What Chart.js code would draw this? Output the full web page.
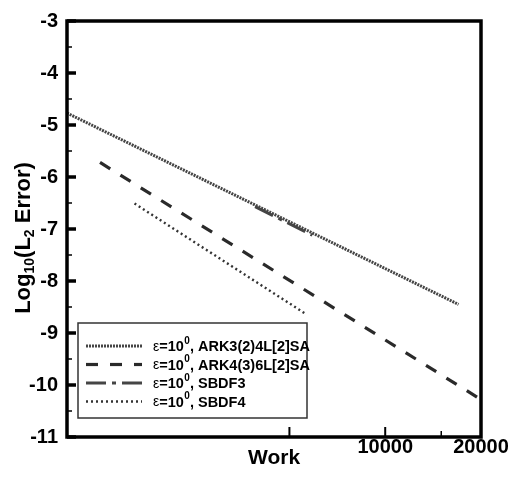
<!DOCTYPE html>
<html>
<head>
<meta charset="utf-8">
<script src="https://cdn.jsdelivr.net/npm/chart.js@4/dist/chart.umd.min.js"></script>
<style>
html,body{margin:0;padding:0;background:#fff;}
#wrap{width:511px;height:481px;}
</style>
</head>
<body>
<div id="wrap"><canvas id="c" width="511" height="481"></canvas></div>
<script>
// ---- data ----
const seriesNames = ['ARK3(2)4L[2]SA', 'ARK4(3)6L[2]SA', 'SBDF3', 'SBDF4'];
const workARK3 = [1000, 17000];
const errARK3  = [-4.77, -8.45];
const workARK4 = [1270, 20000];
const errARK4  = [-5.72, -10.28];
const workSBDF3 = [3900, 5900];
const errSBDF3  = [-6.57, -7.12];
const workSBDF4 = [1630, 5650];
const errSBDF4  = [-6.51, -8.64];
const xTickValues = [5000, 10000, 15000, 20000];
const xLabeled = [10000, 20000];
const yTickValues = [-3, -4, -5, -6, -7, -8, -9, -10, -11];

const FONT = "'Liberation Sans', Arial, sans-serif";
const pts = (xs, ys) => xs.map((x, i) => ({x: x, y: ys[i]}));

const styles = [
  {color: '#454545', width: 3, dash: [2, 1]},
  {color: '#2a2a2a', width: 3.2, dash: [12, 12]},
  {color: '#454545', width: 3, dash: [20, 6, 4, 6]},
  {color: '#333333', width: 2.4, dash: [2, 3]}
];
const seriesData = [pts(workARK3, errARK3), pts(workARK4, errARK4), pts(workSBDF3, errSBDF3), pts(workSBDF4, errSBDF4)];

const datasets = seriesData.map((d, i) => ({
  label: seriesNames[i],
  data: d,
  borderColor: styles[i].color,
  borderWidth: styles[i].width,
  borderDash: styles[i].dash,
  pointRadius: 0,
  fill: false,
  tension: 0
}));

const framePlugin = {
  id: 'frame',
  afterDraw(chart) {
    const ctx = chart.ctx;
    const a = chart.chartArea;
    const xs = chart.scales.x, ys = chart.scales.y;
    ctx.save();
    ctx.strokeStyle = '#000';
    // y ticks (inward)
    yTickValues.forEach(v => {
      const y = ys.getPixelForValue(v);
      ctx.lineWidth = 3.5;
      ctx.beginPath(); ctx.moveTo(a.left, y); ctx.lineTo(a.left + 9, y); ctx.stroke();
      if (v > -11) {
        const ym = ys.getPixelForValue(v - 0.5);
        ctx.lineWidth = 1.5;
        ctx.beginPath(); ctx.moveTo(a.left, ym); ctx.lineTo(a.left + 5, ym); ctx.stroke();
      }
    });
    // x ticks (inward)
    xTickValues.forEach(v => {
      const x = xs.getPixelForValue(v);
      const major = v !== 15000;
      ctx.lineWidth = major ? 2 : 1.5;
      ctx.beginPath(); ctx.moveTo(x, a.bottom); ctx.lineTo(x, a.bottom - (major ? 10 : 6)); ctx.stroke();
    });
    // frame
    ctx.lineWidth = 3.5;
    ctx.strokeRect(a.left, a.top, a.right - a.left, a.bottom - a.top);

    // y title with subscripts
    ctx.save();
    ctx.translate(30, 238);
    ctx.rotate(-Math.PI / 2);
    ctx.fillStyle = '#000';
    ctx.textBaseline = 'alphabetic';
    const big = 'bold 22px ' + FONT, small = 'bold 14px ' + FONT;
    const parts = [['Log', big, 0], ['10', small, 4], ['(L', big, 0], ['2', small, 4], [' Error)', big, 0]];
    let total = 0;
    parts.forEach(p => { ctx.font = p[1]; total += ctx.measureText(p[0]).width; });
    let cx = -total / 2;
    parts.forEach(p => { ctx.font = p[1]; ctx.fillText(p[0], cx, p[2]); cx += ctx.measureText(p[0]).width; });
    ctx.restore();

    // legend
    const lx = 78, ly = 323, lw = 229, lh = 95;
    ctx.fillStyle = '#fff';
    ctx.fillRect(lx, ly, lw, lh);
    ctx.lineWidth = 1.5;
    ctx.strokeStyle = '#333';
    ctx.strokeRect(lx, ly, lw, lh);
    const rows = [346, 364.5, 383, 401.5];
    chart.data.datasets.forEach((ds, i) => {
      const y = rows[i];
      ctx.save();
      ctx.strokeStyle = ds.borderColor;
      ctx.lineWidth = ds.borderWidth;
      ctx.setLineDash(ds.borderDash);
      ctx.beginPath(); ctx.moveTo(86, y); ctx.lineTo(142, y); ctx.stroke();
      ctx.restore();
      ctx.fillStyle = '#000';
      ctx.textBaseline = 'middle';
      let tx = 153;
      ctx.font = '14px ' + FONT;
      ctx.fillText('ε', tx, y + 1); tx += ctx.measureText('ε').width;
      ctx.font = 'bold 14.5px ' + FONT;
      ctx.fillText('=10', tx, y + 1); tx += ctx.measureText('=10').width;
      ctx.font = 'bold 10px ' + FONT;
      ctx.fillText('0', tx + 0.5, y - 5); tx += ctx.measureText('0').width + 0.5;
      ctx.font = 'bold 14.5px ' + FONT;
      ctx.fillText(', ' + ds.label, tx, y + 1);
    });
    ctx.restore();
  }
};

new Chart(document.getElementById('c'), {
  type: 'line',
  data: {datasets: datasets},
  options: {
    responsive: false,
    animation: false,
    layout: {padding: {top: 13, right: 30, left: 0, bottom: 0}},
    plugins: {legend: {display: false}, tooltip: {enabled: false}},
    scales: {
      x: {
        type: 'logarithmic',
        min: 1000, max: 20000,
        afterBuildTicks: (s) => { s.ticks = xTickValues.map(v => ({value: v})); },
        afterFit: (s) => { s.height = 44; },
        grid: {display: false, drawTicks: false},
        border: {display: false},
        ticks: {
          autoSkip: false, maxRotation: 0, padding: -2,
          color: '#000',
          font: {family: FONT, size: 20, weight: 'bold'},
          callback: (v) => xLabeled.includes(v) ? String(v) : ''
        },
        title: {display: true, text: 'Work', color: '#000', padding: {top: 0, bottom: 10},
                font: {family: FONT, size: 21, weight: 'bold'}}
      },
      y: {
        type: 'linear',
        min: -11, max: -3,
        afterBuildTicks: (s) => { s.ticks = yTickValues.map(v => ({value: v})); },
        afterFit: (s) => { s.width = 67; },
        grid: {display: false, drawTicks: false},
        border: {display: false},
        ticks: {
          padding: 9, color: '#000',
          font: {family: FONT, size: 20, weight: 'bold'}
        }
      }
    }
  },
  plugins: [framePlugin]
});
</script>
</body>
</html>
